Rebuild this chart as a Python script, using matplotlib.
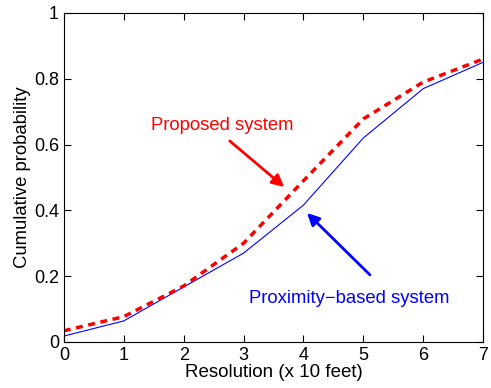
import matplotlib
matplotlib.use("Agg")
import matplotlib.pyplot as plt

plt.rcParams['font.family'] = ['Liberation Sans', 'DejaVu Sans']

resolution = [0, 1, 2, 3, 4, 5, 6, 7]
proposed = [0.034, 0.077, 0.17, 0.30, 0.49, 0.678, 0.79, 0.86]
proximity = [0.018, 0.064, 0.167, 0.27, 0.416, 0.62, 0.77, 0.85]

fig = plt.figure(figsize=(4.91, 3.88), dpi=100)
ax = fig.add_axes([0.130, 0.1186, 0.854, 0.848])

ax.plot(resolution, proximity, color='blue', linewidth=0.8)
ax.plot(resolution, proposed, color='red', linestyle='--', linewidth=2.5, dashes=(2.0, 1.6))

# arrows (tail -> head), labels drawn separately
ax.annotate('', xy=(3.68, 0.471), xytext=(2.77, 0.611),
            arrowprops=dict(arrowstyle='-|>', color='red', lw=2,
                            mutation_scale=18, shrinkA=0, shrinkB=0))
ax.annotate('', xy=(4.06, 0.392), xytext=(5.11, 0.204),
            arrowprops=dict(arrowstyle='-|>', color='blue', lw=2,
                            mutation_scale=18, shrinkA=0, shrinkB=0))
ax.text(2.65, 0.657, 'Proposed system', color='red', fontsize=13.3,
        ha='center', va='center')
ax.text(4.76, 0.131, 'Proximity\u2212based system', color='blue', fontsize=13.3,
        ha='center', va='center')

ax.set_xlim(0, 7)
ax.set_ylim(0, 1)
ax.set_xticks(resolution)
ax.set_yticks([0, 0.2, 0.4, 0.6, 0.8, 1])
ax.set_yticklabels(['0', '0.2', '0.4', '0.6', '0.8', '1'])
ax.tick_params(direction='in', top=True, right=True, labelsize=13, length=5)
ax.set_xlabel('Resolution (x 10 feet)', fontsize=13.5, labelpad=0)
ax.set_ylabel('Cumulative probability', fontsize=13.3, labelpad=2)

fig.savefig('out.png', dpi=100)
